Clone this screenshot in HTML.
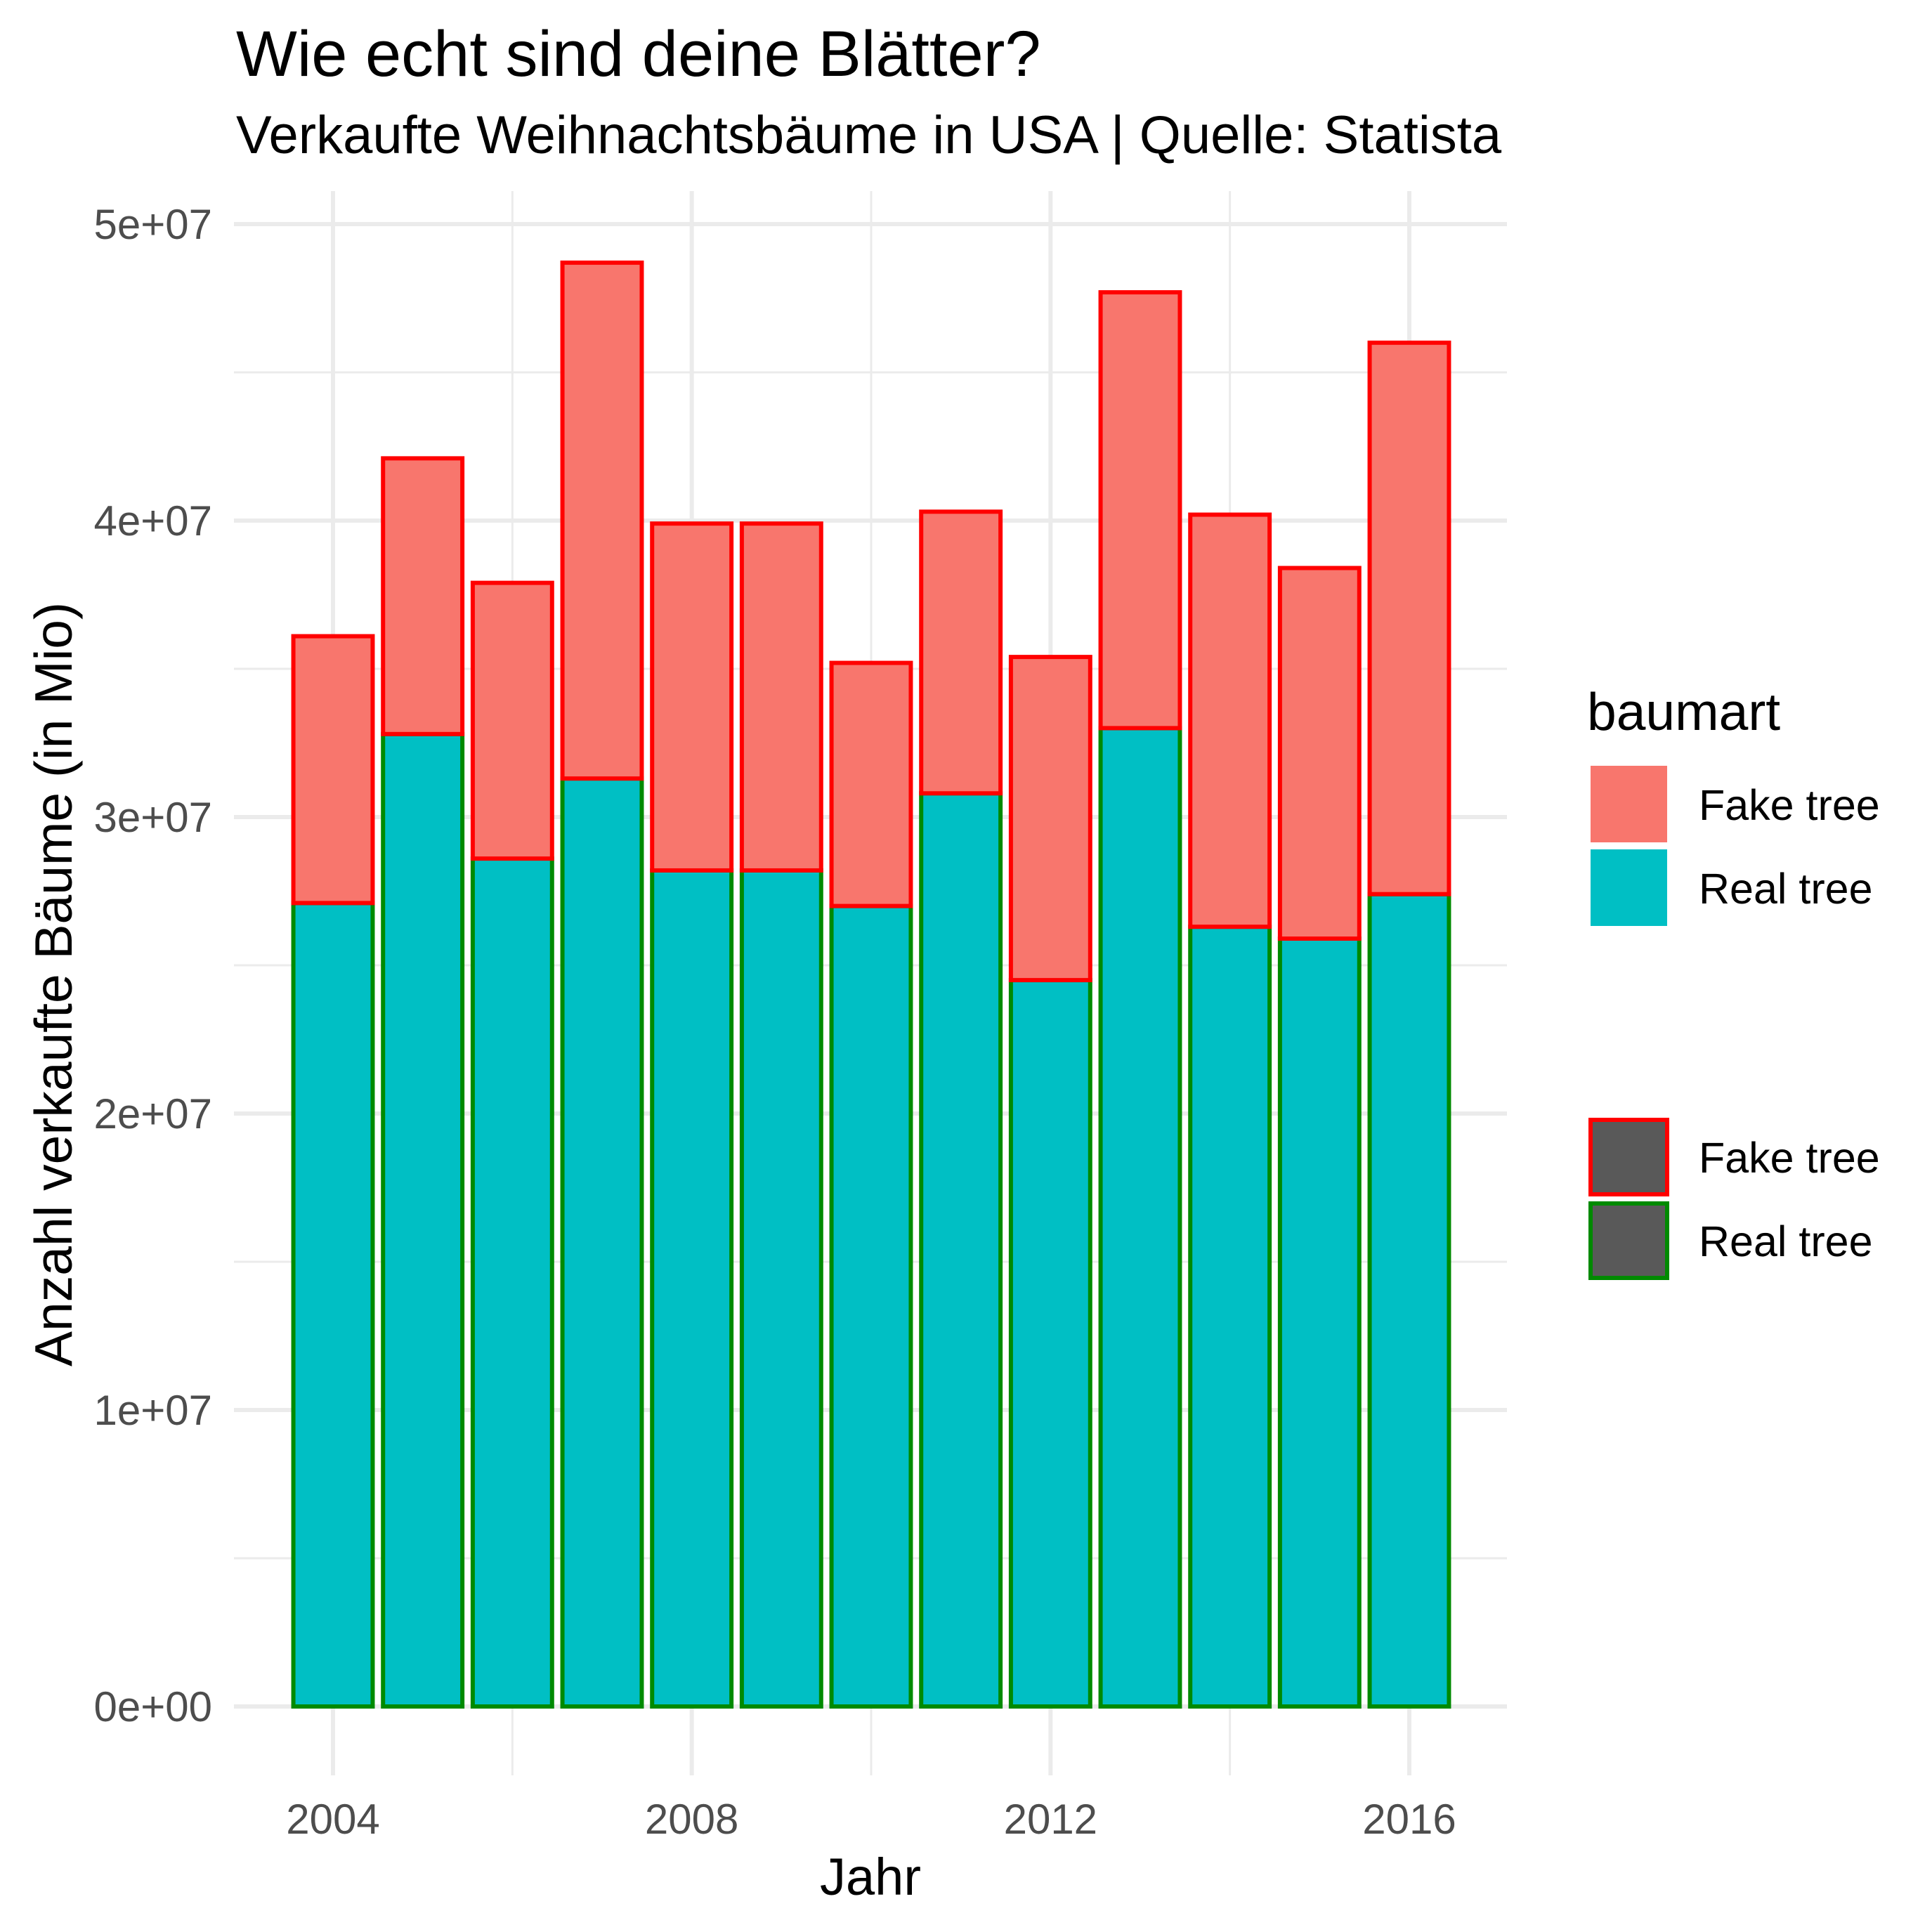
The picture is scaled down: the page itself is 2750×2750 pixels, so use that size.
<!DOCTYPE html>
<html><head><meta charset="utf-8">
<style>html,body{margin:0;padding:0;background:#fff;}svg{display:block;}text{font-family:"Liberation Sans",sans-serif;}</style>
</head><body>
<svg id="chart" width="2750" height="2750" viewBox="0 0 2750 2750" xmlns="http://www.w3.org/2000/svg">
<rect width="2750" height="2750" fill="#fff"/>
<text x="336" y="108" font-size="92" fill="#000">Wie echt sind deine Blätter?</text>
<text x="336" y="218" font-size="76" fill="#000">Verkaufte Weihnachtsbäume in USA | Quelle: Statista</text>
<g id="grid"></g>
<g id="bars"></g>
<g id="axes"></g>
<text x="1239" y="2697" font-size="74" text-anchor="middle" fill="#000">Jahr</text>
<text transform="translate(102,1401) rotate(-90)" font-size="75" text-anchor="middle" fill="#000">Anzahl verkaufte Bäume (in Mio)</text>
<g>
<text x="2259" y="1039" font-size="75" fill="#000">baumart</text>
<g><rect x="2264" y="1090" width="109" height="109" fill="#F8766D"/><text x="2418" y="1167" font-size="61" fill="#000">Fake tree</text></g>
<g><rect x="2264" y="1209" width="109" height="109" fill="#00BFC4"/><text x="2418" y="1286" font-size="61" fill="#000">Real tree</text></g>
</g>
<g>
<g><rect x="2264" y="1594" width="109" height="106" fill="#595959" stroke="#FF0000" stroke-width="6"/><text x="2418" y="1669" font-size="61" fill="#000">Fake tree</text></g>
<g><rect x="2264" y="1713" width="109" height="106" fill="#595959" stroke="#008A00" stroke-width="6"/><text x="2418" y="1788" font-size="61" fill="#000">Real tree</text></g>
</g>
</svg>
<script>
const years = [2004,2005,2006,2007,2008,2009,2010,2011,2012,2013,2014,2015,2016];
const realTrees = [27.1,32.8,28.6,31.3,28.2,28.2,27.0,30.8,24.5,33.0,26.3,25.9,27.4];
const fakeTrees = [9.0,9.3,9.3,17.4,11.7,11.7,8.2,9.5,10.9,14.7,13.9,12.5,18.6];
const yTicks = [0,10,20,30,40,50];
const yTickLabels = ["0e+00","1e+07","2e+07","3e+07","4e+07","5e+07"];
const xTicks = [2004,2008,2012,2016];

const NS = "http://www.w3.org/2000/svg";
const panel = {left:333, right:2145, top:272, bottom:2527};
function xScale(yr){ return 474 + (yr-2004)*(2006-474)/12; }
function yScale(v){ return 2429 - v*(2429-319)/50; }
const bw = 0.9*(2006-474)/12;
function mk(tag, attrs, parent){ const e=document.createElementNS(NS,tag); for(const k in attrs) e.setAttribute(k,attrs[k]); parent.appendChild(e); return e; }

const grid=document.getElementById('grid');
for(let i=0;i<yTicks.length-1;i++){
  const v=(yTicks[i]+yTicks[i+1])/2;
  const l=mk('line',{x1:panel.left,x2:panel.right,y1:yScale(v),y2:yScale(v),stroke:'#EBEBEB','stroke-width':3},grid);
  
  
}
for(let i=0;i<xTicks.length-1;i++){
  const v=(xTicks[i]+xTicks[i+1])/2;
  const l=mk('line',{x1:xScale(v),x2:xScale(v),y1:panel.top,y2:panel.bottom,stroke:'#EBEBEB','stroke-width':3},grid);
  
  
}
yTicks.forEach(v=>{
  const l=mk('line',{x1:panel.left,x2:panel.right,y1:yScale(v),y2:yScale(v),stroke:'#EBEBEB','stroke-width':6},grid);
  
  
});
xTicks.forEach(v=>{
  const l=mk('line',{x1:xScale(v),x2:xScale(v),y1:panel.top,y2:panel.bottom,stroke:'#EBEBEB','stroke-width':6},grid);
  
  
});

const bars=document.getElementById('bars');
years.forEach((yr,i)=>{
  const x=xScale(yr)-bw/2;
  const r=realTrees[i], f=fakeTrees[i];
  const rb=mk('rect',{x:x+1,y:yScale(r),width:bw-2,height:yScale(0)-yScale(r),fill:'#00BFC4',stroke:'#008A00','stroke-width':6},bars);
  
  
  const fb=mk('rect',{x:x+1,y:yScale(r+f),width:bw-2,height:yScale(r)-yScale(r+f),fill:'#F8766D',stroke:'#FF0000','stroke-width':6},bars);
  
  
});

const axes=document.getElementById('axes');
yTicks.forEach((v,i)=>{
  const t=mk('text',{x:302,y:yScale(v)+21,'font-size':60,'text-anchor':'end',fill:'#4D4D4D'},axes);
  t.textContent=yTickLabels[i];
  
  
});
xTicks.forEach(v=>{
  const t=mk('text',{x:xScale(v),y:2610,'font-size':60,'text-anchor':'middle',fill:'#4D4D4D'},axes);
  t.textContent=String(v);
  
  
});
</script>
</body></html>
